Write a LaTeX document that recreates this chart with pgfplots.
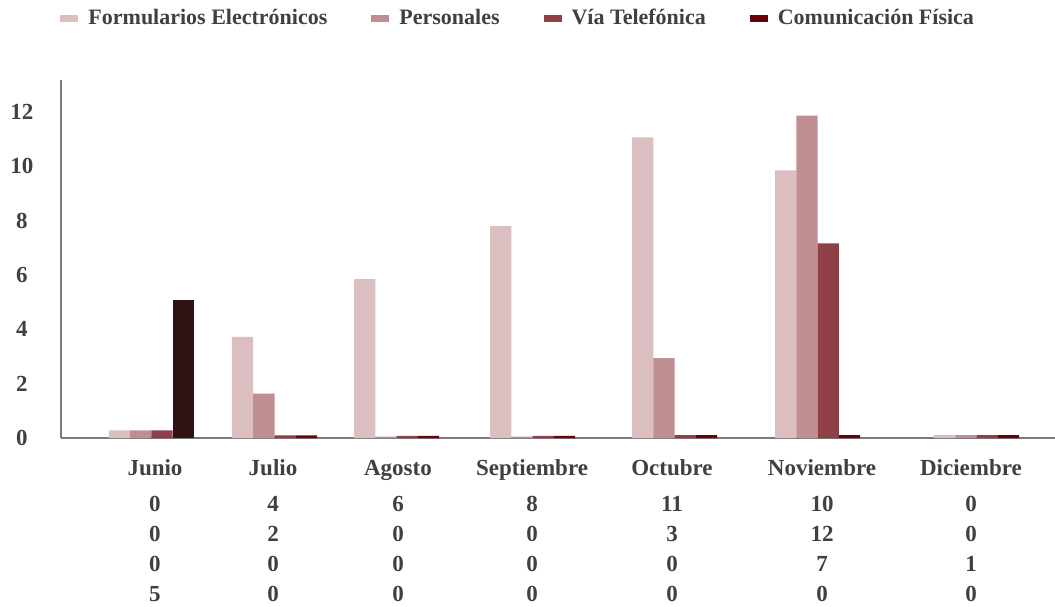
\documentclass[border=0pt]{standalone}
\usepackage{fontspec}
\setmainfont{Liberation Serif}
\usepackage{pgfplots}
\pgfplotsset{compat=1.18}
\definecolor{cFormu}{HTML}{DBBFC0}
\definecolor{cPers}{HTML}{BE8E91}
\definecolor{cTel}{HTML}{8F3F46}
\definecolor{cFis}{HTML}{6B0009}
\definecolor{cFisDark}{HTML}{311214}
\definecolor{txt}{HTML}{404040}
\definecolor{axisgray}{HTML}{7A7A7A}

\begin{document}
\begin{tikzpicture}
\path[use as bounding box] (-30.5pt,-84pt) rectangle (497pt,219pt);
\begin{axis}[
  scale only axis, width=497pt, height=179pt,
  ybar, bar width=21.25, clip=false,
  xmin=61, xmax=1055, ymin=0, ymax=13.18,
  axis lines=left, axis line style={axisgray, line width=1pt, -},
  major tick length=0pt,
  ytick={0,2,...,12},
  yticklabel style={anchor=center, xshift=-19.5pt, font=\fontsize{11.5}{13}\selectfont\bfseries, text=txt},
  /pgf/number format/assume math mode=true,
  xtick={155,273,398,532,672,822,971},
  xticklabels={{Junio\vphantom{lb}\\[3pt]0\\0\\0\\5},{Julio\vphantom{lb}\\[3pt]4\\2\\0\\0},{Agosto\vphantom{lb}\\[3pt]6\\0\\0\\0},
    {Septiembre\vphantom{lb}\\[3pt]8\\0\\0\\0},{Octubre\vphantom{lb}\\[3pt]11\\3\\0\\0},{Noviembre\vphantom{lb}\\[3pt]10\\12\\7\\0},
    {Diciembre\vphantom{lb}\\[3pt]0\\0\\1\\0}},
  xticklabel style={align=center, anchor=north, yshift=-7pt, font=\fontsize{11.5}{15}\selectfont\bfseries, text=txt},
  legend columns=4,
  legend style={draw=none, fill=none, at={(0.461,1.173)}, anchor=center,
    font=\fontsize{11}{13}\selectfont\bfseries, text=txt,
    /tikz/every odd column/.append style={column sep=3pt},
    /tikz/every even column/.append style={column sep=20pt}},
  legend image code/.code={\fill[#1] (0pt,-1.75pt) rectangle (9pt,1.75pt);},
]
\addplot[fill=cFormu, draw=none, bar shift=-31.875] coordinates {
  (151.5,0.28) (274.5,3.72) (396.5,5.85) (532.5,7.8) (674.5,11.07) (817.5,9.85) (976.5,0.11)};
\addlegendentry{Formularios Electrónicos}
\addplot[fill=cPers, draw=none, bar shift=-10.625] coordinates {
  (151.5,0.28) (274.5,1.63) (396.5,0.05) (532.5,0.05) (674.5,2.94) (817.5,11.87) (976.5,0.11)};
\addlegendentry{Personales}
\addplot[fill=cTel, draw=none, bar shift=10.625] coordinates {
  (151.5,0.28) (274.5,0.1) (396.5,0.08) (532.5,0.08) (674.5,0.11) (817.5,7.17) (976.5,0.11)};
\addlegendentry{Vía Telefónica}
\addplot[fill=cFis, draw=none, bar shift=31.875] coordinates {
  (274.5,0.1) (396.5,0.08) (532.5,0.08) (674.5,0.11) (817.5,0.11) (976.5,0.11)};
\addlegendentry{Comunicación Física}
\addplot[fill=cFisDark, draw=none, bar shift=31.875, forget plot] coordinates {(151.5,5.07)};
\end{axis}
\end{tikzpicture}
\end{document}
